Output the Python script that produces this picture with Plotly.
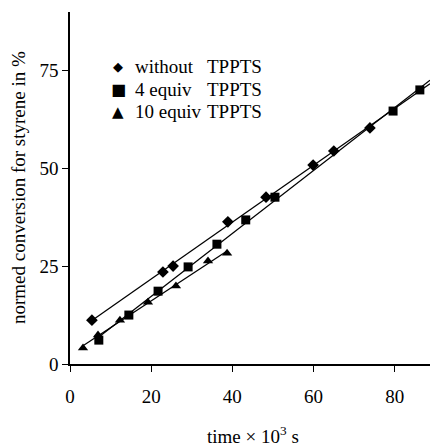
import numpy as np
import plotly.graph_objects as go

# ---- data (time in 10^3 s, normed conversion in %) ----
without_x = [5.4, 22.9, 25.4, 38.9, 48.3, 59.9, 65.0, 73.9]
without_y = [11.2, 23.5, 25.0, 36.3, 42.6, 50.8, 54.4, 60.3]

equiv4_x = [7.1, 14.5, 21.7, 29.1, 36.2, 43.3, 50.5, 79.6, 86.2]
equiv4_y = [6.1, 12.5, 18.6, 24.8, 30.6, 36.8, 42.6, 64.6, 70.0]

equiv10_x = [3.2, 6.9, 12.3, 19.2, 26.1, 34.0, 38.7]
equiv10_y = [4.1, 7.4, 11.2, 15.8, 19.9, 26.3, 28.3]

fit_end_x = [88.7, 88.7, 38.7]

legend_names = ["without", "4 equiv", "10 equiv"]
legend_suffix = "TPPTS"
x_ticks = [0, 20, 40, 60, 80]
y_ticks = [0, 25, 50, 75]

FONT = "Liberation Serif, Times New Roman, serif"

series = [
    (without_x, without_y, "diamond", 9, fit_end_x[0]),
    (equiv4_x, equiv4_y, "square", 9, fit_end_x[1]),
    (equiv10_x, equiv10_y, "triangle-up", 9, fit_end_x[2]),
]

fig = go.Figure()
for xs, ys, sym, sz, xend in series:
    k, b = np.polyfit(xs, ys, 1)
    lx = np.array([min(xs), xend])
    fig.add_trace(go.Scatter(x=lx, y=k * lx + b, mode="lines",
                             line=dict(color="black", width=1.3),
                             showlegend=False, hoverinfo="skip"))
    fig.add_trace(go.Scatter(x=xs, y=ys, mode="markers",
                             marker=dict(symbol=sym, size=sz, color="black"),
                             showlegend=False))

fig.update_layout(
    width=430, height=446,
    margin=dict(l=70, r=0, t=12, b=82),
    paper_bgcolor="white", plot_bgcolor="white",
    font=dict(family=FONT, size=19, color="black"),
    showlegend=False,
)
fig.update_xaxes(range=[0, 88.7], tickvals=x_ticks, ticks="outside", ticklen=6,
                 tickwidth=1.3, tickcolor="black", showline=True, linecolor="black",
                 linewidth=1.6, showgrid=False, zeroline=False,
                 ticklabelstandoff=8)
fig.update_yaxes(range=[0, 89.9], tickvals=y_ticks, ticks="outside", ticklen=6,
                 tickwidth=1.3, tickcolor="black", showline=True, linecolor="black",
                 linewidth=1.6, showgrid=False, zeroline=False)

# axis titles
fig.add_annotation(xref="paper", yref="paper", x=(253 - 70) / 360, y=-(435 - 364) / 352,
                   text="time × 10<sup>3</sup> s", showarrow=False,
                   font=dict(family=FONT, size=19), xanchor="center", yanchor="middle")
fig.add_annotation(xref="paper", yref="paper", x=-(70 - 18) / 360, y=(364 - 188) / 352,
                   text="normed conversion for styrene in %", showarrow=False, textangle=-90,
                   font=dict(family=FONT, size=19), xanchor="center", yanchor="middle")

# legend block
glyphs = ["◆", "■", "▲"]
glyph_sizes = [13, 16, 15]
rows_y = [66, 89, 112]
for g, gs, name, ry in zip(glyphs, glyph_sizes, legend_names, rows_y):
    yp = (364 - ry) / 352
    fig.add_annotation(xref="paper", yref="paper", x=(118 - 70) / 360, y=yp,
                       text=g, showarrow=False, font=dict(family="DejaVu Sans", size=gs),
                       xanchor="center", yanchor="middle")
    fig.add_annotation(xref="paper", yref="paper", x=(133 - 70) / 360, y=yp,
                       text=name, showarrow=False, font=dict(family=FONT, size=19),
                       xanchor="left", yanchor="middle")
    fig.add_annotation(xref="paper", yref="paper", x=(205 - 70) / 360, y=yp,
                       text=legend_suffix, showarrow=False, font=dict(family=FONT, size=19),
                       xanchor="left", yanchor="middle")

fig.write_html("out.html", config={"displayModeBar": False},
               post_script="document.body.style.margin='0';document.body.style.padding='0';")
